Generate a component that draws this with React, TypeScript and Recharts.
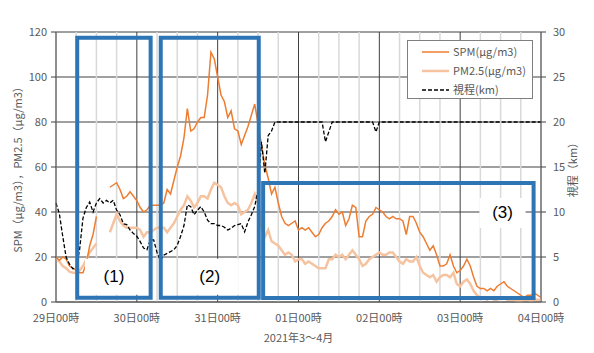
import React from 'react';
import { LineChart, Line, XAxis, YAxis, CartesianGrid, ReferenceLine, ReferenceArea } from 'recharts';

const FONT = '"Noto Sans CJK JP", "Noto Sans", sans-serif';
const TEXT = '#595959';

// x: hours since 29日00時 (index of each value)
const dayLabels = ['29日00時', '30日00時', '31日00時', '01日00時', '02日00時', '03日00時', '04日00時'];
const leftTicks = [0, 20, 40, 60, 80, 100, 120];
const rightTicks = [0, 5, 10, 15, 20, 25, 30];

const spm = [
  20, 18.5, 20, 19, 16, 15, 14, 13, 13, 17, 25, 30, 38, null, null, null,
  51, 52, 53, 50, 46, 47, 49, 47, 45, 42, 40, 41, 43, 43, 43, 43,
  44, 50, 48, 54, 60, 65, 73, 86, 76, 77, 80, 82, 82, 92, 111, 108,
  100, 92, 89, 82, 85, 77, 76, 70, 74, 78, 83, 88, 79, 70, 61, 55,
  48, 51, 44, 38, 35, 34, 35, 36, 32, 33, 32, 33, 31, 29, 30, 33,
  35, 36, 38, 41, 39, 40, 34, 37, 43, 42, 29, 29, 36, 38, 39, 42,
  41, 40, 38, 37, 38, 37, 37, 36, 30, 38, 38, 35, 31, 29, 26, 23,
  25, 21, 16, 16, 17, 21, 16, 13, 14, 16, 19, 16, 11, 7, 6, 6,
  5, 6, 5, 7, 8, 9, 7, 6, 5, 4, 3, 2, 3, 3, 4, 3, 2,
];

const pm25 = [
  19, 18, 16, 15, 13.5, 13, 13, 14, 16, 19, 22, 24, 26, null, null, null,
  31, 35, 39, 36, 34, 33, 33, 33, 33, 32, 29, 31, 31, 32, 33, 33,
  33, 31, 33, 35, 38, 41, 43, 47, 45, 42, 44, 47, 47, 46, 50, 53,
  52, 51, 47, 44, 43, 44, 43, 39, 40, 41, 44, 48, 44, 33, 29, 32,
  27, 26, 25, 23, 21, 22, 21, 18, 19, 19, 17, 18, 17, 16, 15, 15,
  15, 19, 19, 21, 20, 21, 19, 21, 23, 21, 19, 16, 17, 19, 20, 21,
  22, 21, 21, 22, 22, 20, 18, 17, 19, 18, 18, 20, 16, 13, 12, 11,
  12, 9, 11, 12, 12, 11, 13, 8, 7, 9, 10, 8, 5, 3, 2, 2,
  1, 2, 1, 1, 2, 2, 1, 1, 1, 0.5, 0.5, 1, 1, 0.5, 1, 1, 1,
];

const vis = [
  11, 9.8, 7.3, 5, 4.2, 3.7, 3.8, 5.8, 9.3, 10.5, 11.1, 10, 11, 11.5, 11, 11.3,
  11, 11.3, 10.2, 9.7, 8.7, 8.6, 8, 7.6, 7.3, 6.7, 6, 5.8, 6.9, 6.9, 5.5, 4.6,
  5.2, 5.4, 5.6, 5.8, 6.3, 7.3, 8.5, 10.8, 10.6, 9.7, 10.2, 10.6, 10, 9.1, 8.7, 8.7,
  8.5, 8.5, 8.3, 8, 8.2, 8.5, 8.6, 8.7, 7.8, 8.9, 9.7, 10.6, 12.5, 17.8, 14.3, 18.5,
  19, 20, 20, 20, 20, 20, 20, 20, 20, 20, 20, 20, 20, 20, 20, 20,
  17.8, 18.9, 20, 20, 20, 20, 20, 20, 20, 20, 20, 20, 20, 20, 20, 18.9,
  20, 20, 20, 20, 20, 20, 20, 20, 20, 20, 20, 20, 20, 20, 20, 20,
  20, 20, 20, 20, 20, 20, 20, 20, 20, 20, 20, 20, 20, 20, 20, 20,
  20, 20, 20, 20, 20, 20, 20, 20, 20, 20, 20, 20, 20, 20, 20, 20, 20,
];

// annotation boxes, in axis units (hours, left axis)
const boxes = [
  { label: '(1)', x1: 6.3, x2: 28.1, y1: 1.9, y2: 117.5, corner: 'bottom' },
  { label: '(2)', x1: 31.1, x2: 60.2, y1: 1.9, y2: 117.5, corner: 'bottom' },
  { label: '(3)', x1: 61.5, x2: 141.8, y1: 1.8, y2: 52.9, corner: 'topRight' },
];

const data = spm.map((v, i) => ({ h: i, spm: v, pm25: pm25[i], vis: vis[i] }));
const dayTicks = dayLabels.map((_, i) => i * 24);
const minorTicks = Array.from({ length: 24 }, (_, i) => i * 6).filter((t) => t % 24 !== 0);

const renderBoxLabel = (p: any, b: any) => {
  const { x, y, width, height } = p.viewBox;
  let cx = x + width / 2;
  let cy = y + height - 21;
  let w = 58;
  let hgt = 36;
  if (b.corner === 'topRight') {
    cx = x + width - 31;
    cy = y + 30;
    w = 46;
    hgt = 30;
  }
  return (
    <g>
      <rect x={cx - w / 2} y={cy - hgt / 2} width={w} height={hgt} fill="#fff" />
      <text x={cx} y={cy} textAnchor="middle" dominantBaseline="central" fontSize={17}
        fontFamily='"Liberation Sans", Arial, sans-serif' fill="#000">
        {b.label}
      </text>
    </g>
  );
};

const legendItems = [
  { name: 'SPM(μg/m3)', color: '#ED7D31', width: 1.5, dash: undefined },
  { name: 'PM2.5(μg/m3)', color: '#F6C3A0', width: 2.5, dash: undefined },
  { name: '視程(km)', color: '#000', width: 1.5, dash: '4 2' },
];

const ChartLegend = () => (
  <div style={{
    position: 'absolute', left: 407, top: 40, width: 126, height: 59, boxSizing: 'border-box',
    border: '1px solid #7f7f7f', background: '#fff', paddingTop: 1, fontSize: 11, color: TEXT,
  }}>
    {legendItems.map((it) => (
      <div key={it.name} style={{ display: 'flex', alignItems: 'center', height: 19, paddingLeft: 14 }}>
        <svg width={27} height={6} style={{ marginRight: 4 }}>
          <line x1={0} y1={3} x2={27} y2={3} stroke={it.color} strokeWidth={it.width} strokeDasharray={it.dash} />
        </svg>
        <span style={{ lineHeight: '19px' }}>{it.name}</span>
      </div>
    ))}
  </div>
);

export default function App() {
  return (
    <div style={{ position: 'absolute', left: 0, top: 0, width: 594, height: 353, fontFamily: FONT, background: '#fff' }}>
      <LineChart width={594} height={353} data={data} margin={{ top: 32, right: 0, bottom: 11, left: 0 }}>
        <CartesianGrid yAxisId="left" stroke="#404040" strokeWidth={1} />
        {minorTicks.map((t) => (
          <ReferenceLine key={t} x={t} yAxisId="left" stroke="#d9d9d9" strokeWidth={1.5} />
        ))}
        <XAxis
          dataKey="h"
          type="number"
          domain={[0, 144]}
          ticks={dayTicks}
          tickFormatter={(v) => dayLabels[Math.round(v / 24)]}
          height={40}
          tickSize={6}
          tickMargin={6}
          tickLine={false}
          axisLine={{ stroke: '#595959' }}
          tick={{ fill: TEXT, fontSize: 11 }}
          label={{ value: '2021年3〜4月', position: 'insideBottom', offset: 0, fill: TEXT, fontSize: 11 }}
        />
        <YAxis
          yAxisId="left"
          domain={[0, 120]}
          ticks={leftTicks}
          width={56}
          tickSize={5}
          tickMargin={4}
          axisLine={{ stroke: '#7f7f7f' }}
          tickLine={{ stroke: '#404040' }}
          tick={{ fill: TEXT, fontSize: 11 }}
          label={{
            value: 'SPM（μg/m3），PM2.5（μg/m3）', angle: -90, position: 'insideLeft', offset: 18,
            fill: TEXT, fontSize: 11, style: { textAnchor: 'middle' },
          }}
        />
        <YAxis
          yAxisId="right"
          orientation="right"
          domain={[0, 30]}
          ticks={rightTicks}
          width={53}
          tickSize={5}
          tickMargin={7}
          axisLine={{ stroke: '#7f7f7f' }}
          tickLine={{ stroke: '#404040' }}
          tick={{ fill: TEXT, fontSize: 11 }}
          label={{
            value: '視程（km）', angle: -90, position: 'insideRight', offset: 21,
            fill: TEXT, fontSize: 11, style: { textAnchor: 'middle' },
          }}
        />
        <Line yAxisId="left" type="linear" dataKey="pm25" stroke="#F6C3A0" strokeWidth={2.5} dot={false} isAnimationActive={false} />
        <Line yAxisId="left" type="linear" dataKey="spm" stroke="#ED7D31" strokeWidth={1.5} dot={false} isAnimationActive={false} />
        <Line yAxisId="right" type="linear" dataKey="vis" stroke="#000" strokeWidth={1.3} strokeDasharray="4 2" dot={false} isAnimationActive={false} />
        {boxes.map((b) => (
          <ReferenceArea
            key={b.label}
            yAxisId="left"
            x1={b.x1}
            x2={b.x2}
            y1={b.y1}
            y2={b.y2}
            fill="none"
            fillOpacity={0}
            stroke="#2E75B6"
            strokeWidth={4}
            strokeOpacity={1}
            ifOverflow="visible"
            zIndex={450}
            label={{ content: (p: any) => renderBoxLabel(p, b) }}
          />
        ))}
      </LineChart>
      <ChartLegend />
    </div>
  );
}
